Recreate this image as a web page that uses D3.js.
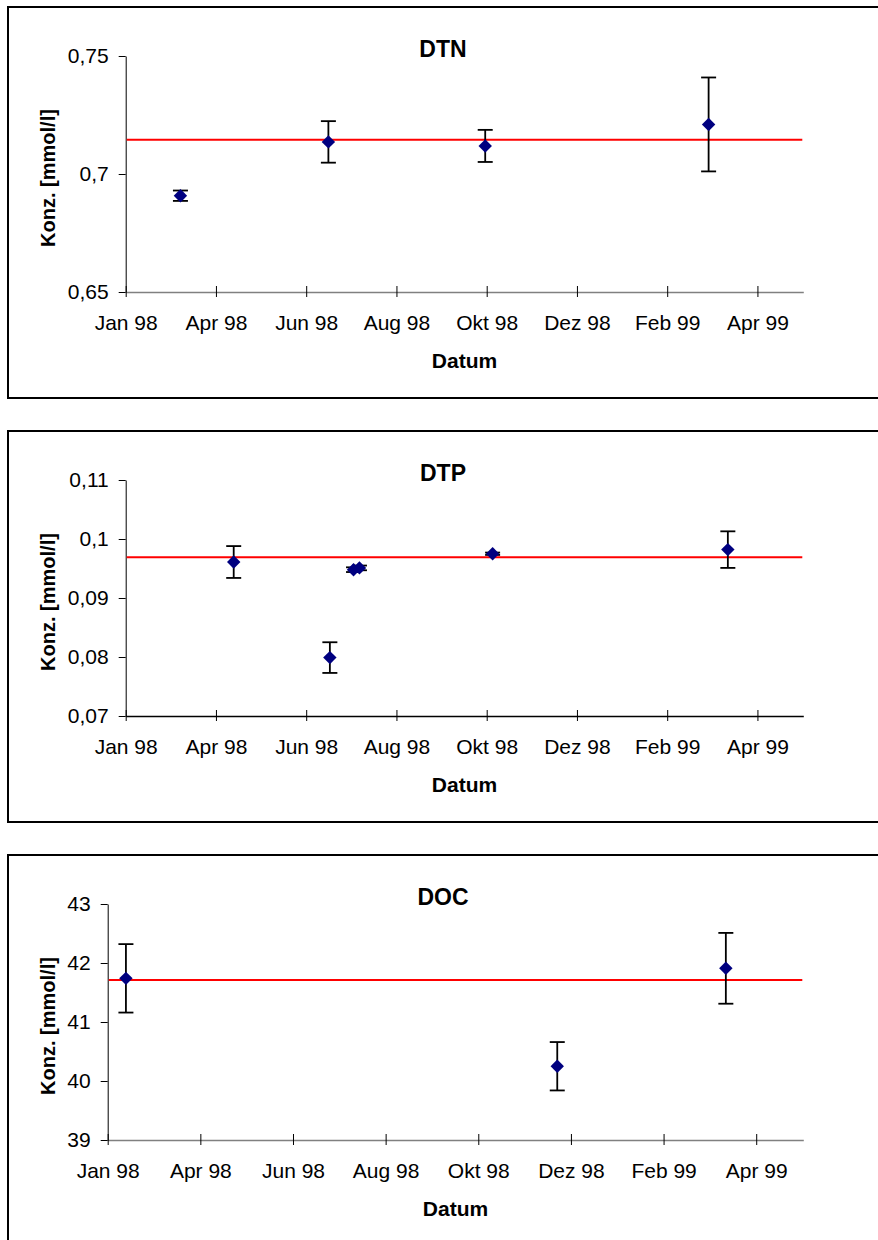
<!DOCTYPE html>
<html>
<head>
<meta charset="utf-8">
<title>DTN DTP DOC</title>
<script src="https://cdn.jsdelivr.net/npm/d3@7"></script>
<style>
  body { margin: 0; background: #fff; }
  svg { display: block; font-family: 'Liberation Sans', Arial, sans-serif; }
</style>
</head>
<body>
<div id="chart"></div>
<script>
// x axis (same for all three panels)
const xDomain = ['1998-01-31', '1999-05-04']
const xTickDates = ['1998-01-31', '1998-04-02', '1998-06-02', '1998-08-02', '1998-10-02', '1998-12-02', '1999-02-01', '1999-04-03']
const xTickLabels = ['Jan 98', 'Apr 98', 'Jun 98', 'Aug 98', 'Okt 98', 'Dez 98', 'Feb 99', 'Apr 99']

// DTN
const dtnDates = ['1998-03-09', '1998-06-17', '1998-10-01', '1999-03-01']
const dtnValues = [0.6908, 0.7136, 0.7119, 0.7210]
const dtnErrors = [0.0022, 0.0088, 0.0068, 0.0199]
const dtnMean = 0.7145
const dtnTicks = [0.65, 0.7, 0.75]

// DTP
const dtpDates = ['1998-04-14', '1998-06-18', '1998-07-04', '1998-07-08', '1998-10-06', '1999-03-14']
const dtpValues = [0.0961, 0.0799, 0.0948, 0.0951, 0.0975, 0.0982]
const dtpErrors = [0.0027, 0.0026, 0.0004, 0.0004, 0.0002, 0.0031]
const dtpMean = 0.0969
const dtpTicks = [0.07, 0.08, 0.09, 0.1, 0.11]

// DOC
const docDates = ['1998-02-12', '1998-11-23', '1999-03-14']
const docValues = [41.74, 40.25, 41.91]
const docErrors = [0.58, 0.41, 0.6]
const docMean = 41.71
const docTicks = [39, 40, 41, 42, 43]

const parseDate = d3.timeParse('%Y-%m-%d')
const de = d3.formatLocale({ decimal: ',', thousands: '.', grouping: [3], currency: ['', ' €'] })
const fmt = de.format('~g')

const zip = (dates, values, errors) => dates.map((d, i) => ({ date: parseDate(d), value: values[i], err: errors[i] }))

// panels: data + where they sit on the page
const panels = [
  { title: 'DTN', data: zip(dtnDates, dtnValues, dtnErrors), mean: dtnMean, ticks: dtnTicks, top: 7, left: 125.7, xAxisColor: '#808080' },
  { title: 'DTP', data: zip(dtpDates, dtpValues, dtpErrors), mean: dtpMean, ticks: dtpTicks, top: 431, left: 125.7, xAxisColor: '#000' },
  { title: 'DOC', data: zip(docDates, docValues, docErrors), mean: docMean, ticks: docTicks, top: 855, left: 107.7, xAxisColor: '#808080' },
]

const dimensions = { width: 878, height: 1240, frameLeft: 8, frameW: 890, frameH: 391, plotRight: 803.3 }

const svg = d3
  .select('#chart')
  .append('svg')
  .attr('width', dimensions.width)
  .attr('height', dimensions.height)

// Accessors
const xAccessor = (d) => d.date
const yAccessor = (d) => d.value

panels.forEach((p) => {
  const plotTop = p.top + 49
  const plotBottom = p.top + 285

  // frame (runs past the right edge of the page, like the original)
  svg
    .append('rect')
    .attr('x', dimensions.frameLeft)
    .attr('y', p.top)
    .attr('width', dimensions.frameW)
    .attr('height', dimensions.frameH)
    .attr('fill', 'none')
    .attr('stroke', '#000')
    .attr('stroke-width', 2)

  // Scales
  const xScale = d3.scaleTime().domain(xDomain.map(parseDate)).range([p.left, dimensions.plotRight])
  const yScale = d3.scaleLinear().domain(d3.extent(p.ticks)).range([plotBottom, plotTop])

  // Axes
  const xAxis = d3
    .axisBottom(xScale)
    .tickValues(xTickDates.map(parseDate))
    .tickFormat((d, i) => xTickLabels[i])
    .tickSizeOuter(0)
  const yAxis = d3.axisLeft(yScale).tickValues(p.ticks).tickFormat(fmt).tickSize(7).tickPadding(10).tickSizeOuter(0)

  const xAxisGroup = svg.append('g').attr('transform', `translate(0, ${plotBottom})`).call(xAxis)
  xAxisGroup.select('.domain').attr('stroke', p.xAxisColor).attr('stroke-width', 1.5)
  xAxisGroup.selectAll('.tick line').attr('y1', -6).attr('y2', 5).attr('stroke', '#000')
  xAxisGroup
    .selectAll('.tick text')
    .attr('y', 38)
    .attr('dy', 0)
    .style('font-size', '21px')
    .attr('fill', '#000')

  const yAxisGroup = svg.append('g').attr('transform', `translate(${p.left}, 0)`).call(yAxis)
  yAxisGroup.select('.domain').attr('stroke', '#000').attr('stroke-width', 1)
  yAxisGroup.selectAll('.tick line').attr('stroke', '#000')
  yAxisGroup.selectAll('.tick text').style('font-size', '21px').attr('fill', '#000')

  // mean line
  svg
    .append('line')
    .attr('x1', p.left + 1)
    .attr('x2', dimensions.plotRight - 1)
    .attr('y1', yScale(p.mean))
    .attr('y2', yScale(p.mean))
    .attr('stroke', '#ff0000')
    .attr('stroke-width', 2)

  // error bars
  const bars = svg.append('g').attr('stroke', '#000').attr('stroke-width', 1.8)
  bars
    .selectAll('line.v')
    .data(p.data)
    .join('line')
    .attr('x1', (d) => xScale(xAccessor(d)))
    .attr('x2', (d) => xScale(xAccessor(d)))
    .attr('y1', (d) => yScale(d.value + d.err))
    .attr('y2', (d) => yScale(d.value - d.err))
  ;[1, -1].forEach((s) => {
    bars
      .append('g')
      .selectAll('line')
      .data(p.data)
      .join('line')
      .attr('x1', (d) => xScale(xAccessor(d)) - 7.5)
      .attr('x2', (d) => xScale(xAccessor(d)) + 7.5)
      .attr('y1', (d) => yScale(d.value + s * d.err))
      .attr('y2', (d) => yScale(d.value + s * d.err))
  })

  // diamonds
  const diamond = d3.symbol(d3.symbolSquare, 90)
  svg
    .append('g')
    .selectAll('path')
    .data(p.data)
    .join('path')
    .attr('d', diamond)
    .attr('transform', (d) => `translate(${xScale(xAccessor(d))}, ${yScale(yAccessor(d))}) rotate(45)`)
    .attr('fill', '#000080')

  // title
  svg
    .append('text')
    .attr('x', 443)
    .attr('y', p.top + 50)
    .attr('text-anchor', 'middle')
    .style('font-size', '23px')
    .style('font-weight', 'bold')
    .text(p.title)

  // axis titles
  svg
    .append('text')
    .attr('x', (p.left + dimensions.plotRight) / 2)
    .attr('y', plotBottom + 76)
    .attr('text-anchor', 'middle')
    .style('font-size', '21px')
    .style('font-weight', 'bold')
    .text('Datum')

  svg
    .append('text')
    .attr('transform', `translate(55, ${(plotTop + plotBottom) / 2 + 4}) rotate(-90)`)
    .attr('text-anchor', 'middle')
    .style('font-size', '20px')
    .style('font-weight', 'bold')
    .text('Konz. [mmol/l]')
})
</script>
</body>
</html>
